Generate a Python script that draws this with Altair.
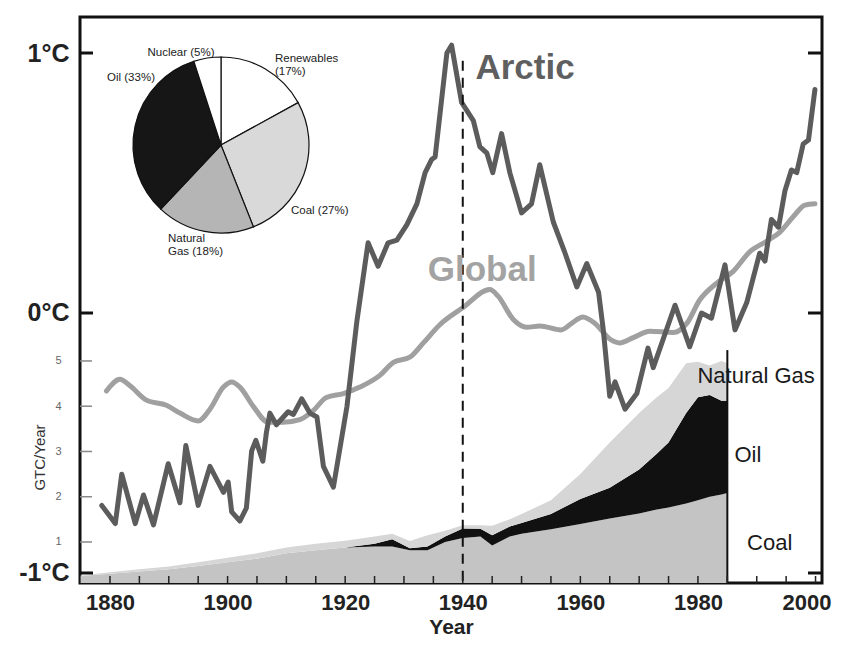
import altair as alt
import pandas as pd

# ---------------- data ----------------
arctic_year = [1878.6, 1880.9, 1882.0, 1884.3, 1885.7, 1887.4, 1889.9, 1891.9, 1892.9, 1895.0,
               1897.0, 1899.3, 1900.1, 1900.7, 1902.1, 1903.2, 1904.1, 1904.8, 1906.0, 1906.6,
               1907.2, 1908.3, 1910.3, 1911.2, 1912.6, 1914.0, 1915.2, 1916.3, 1918.0, 1920.3,
               1922.0, 1923.9, 1925.6, 1927.3, 1928.8, 1930.5, 1932.2, 1933.6, 1934.7, 1935.3,
               1936.4, 1937.3, 1938.1, 1939.8, 1941.8, 1942.9, 1944.1, 1945.1, 1946.6, 1948.0,
               1950.0, 1951.7, 1953.1, 1955.4, 1957.4, 1959.4, 1961.1, 1963.1, 1963.9, 1965.0,
               1965.9, 1967.6, 1969.6, 1971.5, 1972.4, 1976.1, 1978.6, 1980.6, 1982.3, 1984.6,
               1986.3, 1988.3, 1990.5, 1991.4, 1992.5, 1993.7, 1994.8, 1995.9, 1996.8, 1997.9,
               1998.8, 1999.9]
arctic_temp = [-0.74, -0.81, -0.62, -0.81, -0.70, -0.815, -0.58, -0.73, -0.51, -0.74,
               -0.59, -0.69, -0.65, -0.765, -0.80, -0.75, -0.53, -0.49, -0.57, -0.46,
               -0.385, -0.43, -0.38, -0.39, -0.33, -0.385, -0.40, -0.59, -0.67, -0.36,
               -0.03, 0.27, 0.18, 0.27, 0.28, 0.34, 0.42, 0.54, 0.59, 0.60,
               0.82, 1.00, 1.03, 0.81, 0.74, 0.64, 0.615, 0.54, 0.69, 0.54,
               0.385, 0.42, 0.57, 0.35, 0.23, 0.10, 0.19, 0.08, -0.065, -0.32,
               -0.265, -0.37, -0.31, -0.135, -0.21, 0.03, -0.13, 0.00, -0.02, 0.185,
               -0.065, 0.04, 0.23, 0.20, 0.36, 0.33, 0.47, 0.55, 0.54, 0.65,
               0.665, 0.86]

global_year = [1879.4, 1881.7, 1883.4, 1886.2, 1889.6, 1891.9, 1895.0, 1897.0, 1899.3, 1900.7,
               1902.1, 1904.4, 1906.9, 1909.5, 1912.3, 1914.6, 1916.8, 1919.7, 1922.5, 1925.9,
               1928.2, 1931.0, 1933.3, 1936.1, 1940.0, 1944.6, 1946.0, 1948.6, 1950.9, 1953.1,
               1956.7, 1958.8, 1960.4, 1962.5, 1965.0, 1966.7, 1969.0, 1971.8, 1975.8, 1978.1,
               1980.3, 1983.2, 1986.0, 1988.8, 1991.6, 1993.9, 1996.2, 1998.2, 1999.9]
global_temp = [-0.30, -0.255, -0.28, -0.335, -0.355, -0.385, -0.415, -0.37, -0.285, -0.265,
               -0.285, -0.36, -0.42, -0.42, -0.41, -0.375, -0.325, -0.31, -0.285, -0.24,
               -0.19, -0.17, -0.115, -0.045, 0.02, 0.09, 0.065, -0.025, -0.055, -0.05,
               -0.065, -0.035, -0.015, -0.04, -0.10, -0.115, -0.095, -0.07, -0.075, -0.04,
               0.05, 0.115, 0.16, 0.235, 0.275, 0.31, 0.37, 0.415, 0.42]

# carbon emissions, GTC/year, by source
emis_year = [1875, 1880, 1885, 1890, 1895, 1900, 1905, 1910, 1915, 1920, 1925, 1928, 1931,
             1934, 1937, 1940, 1943, 1945, 1948, 1950, 1955, 1960, 1965, 1970, 1973, 1975,
             1978, 1980, 1982, 1984, 1985]
coal = [0.25, 0.30, 0.35, 0.40, 0.47, 0.55, 0.63, 0.75, 0.82, 0.88, 0.90, 0.90, 0.82,
        0.82, 1.00, 1.09, 1.12, 0.92, 1.12, 1.18, 1.28, 1.40, 1.52, 1.63, 1.72, 1.76,
        1.85, 1.92, 2.00, 2.05, 2.08]
oil = [0.0, 0.0, 0.0, 0.0, 0.0, 0.0, 0.0, 0.0, 0.0, 0.0, 0.06, 0.16, 0.04,
       0.08, 0.12, 0.21, 0.17, 0.23, 0.22, 0.24, 0.34, 0.55, 0.68, 0.97, 1.23, 1.44,
       2.00, 2.28, 2.25, 2.07, 2.04]
gas = [0.01, 0.03, 0.05, 0.06, 0.08, 0.10, 0.12, 0.13, 0.14, 0.15, 0.16, 0.12, 0.16,
       0.25, 0.13, 0.07, 0.08, 0.21, 0.16, 0.20, 0.30, 0.55, 1.00, 1.25, 1.25, 1.20,
       1.10, 0.78, 0.65, 0.88, 0.83]
emis_end_year = [1985]
emis_end_top = [5.24]

pie_source = ["Renewables", "Coal", "Natural Gas", "Oil", "Nuclear"]
pie_share = [17, 27, 18, 33, 5]

x_labels = [1880, 1900, 1920, 1940, 1960, 1980, 2000]
x_ticks = [1880, 1885, 1890, 1895, 1900, 1905, 1910, 1915, 1920, 1925, 1930, 1935, 1940,
           1945, 1950, 1955, 1960, 1965, 1970, 1975, 1980, 1985, 1990, 1995, 2000]
temp_ticks = [-1, 0, 1]
gtc_ticks = [1, 2, 3, 4, 5]
marker_year = [1940]
marker_top = [0.97]

series_labels = ["Arctic", "Global"]
series_label_year = [1950.6, 1943.3]
series_label_temp = [0.942, 0.165]
fuel_labels = ["Natural Gas", "Oil", "Coal"]
fuel_label_year = [1989.9, 1988.5, 1992.2]
fuel_label_gtc = [4.67, 2.92, 0.98]

# ---------------- tables ----------------
arctic_df = pd.DataFrame({"year": arctic_year, "temp": arctic_temp})
global_df = pd.DataFrame({"year": global_year, "temp": global_temp})
rows = []
for i, y in enumerate(emis_year):
    rows.append({"year": y, "fuel": "Coal", "ord": 0, "gtc": coal[i]})
    rows.append({"year": y, "fuel": "Oil", "ord": 1, "gtc": oil[i]})
    rows.append({"year": y, "fuel": "Natural Gas", "ord": 2, "gtc": gas[i]})
emis_df = pd.DataFrame(rows)
pie_df = pd.DataFrame({"source": pie_source, "share": pie_share, "ord": list(range(len(pie_source)))})

W, H = 742, 566
SANS = "Liberation Sans, Arial, Helvetica, sans-serif"

X_SCALE = alt.Scale(domain=[1874.9, 2001.1], nice=False, zero=False)
T_SCALE = alt.Scale(domain=[-1.0385, 1.1385], nice=False, zero=False)
G_SCALE = alt.Scale(domain=[0.094, 12.6], nice=False, zero=False)

X_AXIS = alt.Axis(values=x_labels, format="d", title="Year", ticks=False, domain=False, grid=False,
                  labelFont=SANS, labelFontSize=22, labelFontWeight="bold", labelColor="#222",
                  labelPadding=9, labelFlush=False,
                  labelOffset={"condition": {"test": "datum.value == 2000", "value": -9}, "value": 0},
                  titleFont=SANS, titleFontSize=21, titleFontWeight="bold", titleColor="#222",
                  titleY=50, titleBaseline="alphabetic")
T_AXIS = alt.Axis(values=temp_ticks, labelExpr="datum.value + '°C'", orient="left", ticks=False,
                  domain=False, grid=False, labelFont=SANS, labelFontSize=25, labelFontWeight="bold",
                  labelColor="#222", labelPadding=11, title=None, labelFlush=False)
G_AXIS = alt.Axis(values=gtc_ticks, format="d", orient="left", ticks=False, domain=False, grid=False,
                  labelFont=SANS, labelFontSize=11, labelColor="#666", labelPadding=19,
                  title="GTC/Year", titleFont=SANS, titleFontSize=15, titleFontWeight="normal",
                  titleColor="#333", titleX=-41, titleY=440, titleAngle=270, titleAlign="center",
                  titleBaseline="middle", labelFlush=False)


def X(field="year"):
    return alt.X(f"{field}:Q", scale=X_SCALE, axis=X_AXIS)


area = alt.Chart(emis_df).mark_area(clip=True).encode(
    x=X(),
    y=alt.Y("gtc:Q", stack="zero", scale=G_SCALE, axis=G_AXIS),
    color=alt.Color("fuel:N", scale=alt.Scale(domain=["Coal", "Oil", "Natural Gas"],
                                              range=["#c4c4c4", "#111111", "#d6d6d6"]), legend=None),
    order=alt.Order("ord:Q"),
)

end_rule = alt.Chart(pd.DataFrame({"year": emis_end_year, "top": emis_end_top})).mark_rule(
    color="#111", strokeWidth=2).encode(
    x=X(), y=alt.Y("top:Q", scale=G_SCALE, axis=None), y2=alt.value(H))

gtc_tick_marks = alt.Chart(pd.DataFrame({"g": gtc_ticks})).mark_rule(color="#888", strokeWidth=1.5).encode(
    y=alt.Y("g:Q", scale=G_SCALE, axis=None), x=alt.value(0), x2=alt.value(12))

global_line = alt.Chart(global_df).mark_line(color="#a0a0a0", strokeWidth=5, strokeJoin="round",
                                             strokeCap="round", clip=True,
                                             interpolate="monotone").encode(
    x=X(), y=alt.Y("temp:Q", scale=T_SCALE, axis=None))

arctic_line = alt.Chart(arctic_df).mark_line(color="#5c5c5c", strokeWidth=5, strokeJoin="round",
                                             strokeCap="round", clip=True).encode(
    x=X(), y=alt.Y("temp:Q", scale=T_SCALE, axis=T_AXIS))

marker = alt.Chart(pd.DataFrame({"year": marker_year, "top": marker_top})).mark_rule(
    color="#111", strokeWidth=2, strokeDash=[10, 7]).encode(
    x=X(), y=alt.Y("top:Q", scale=T_SCALE, axis=None), y2=alt.value(H))

temp_df = pd.DataFrame({"t": temp_ticks})
temp_left = alt.Chart(temp_df).mark_rule(color="#111", strokeWidth=3).encode(
    y=alt.Y("t:Q", scale=T_SCALE, axis=None), x=alt.value(0), x2=alt.value(13))
temp_right = alt.Chart(temp_df).mark_rule(color="#111", strokeWidth=3).encode(
    y=alt.Y("t:Q", scale=T_SCALE, axis=None), x=alt.value(W - 14), x2=alt.value(W))

x_tick_marks = alt.Chart(pd.DataFrame({"year": x_ticks})).mark_rule(color="#222", strokeWidth=1.5).encode(
    x=X(), y=alt.value(H), y2=alt.value(H - 7))

ser_df = pd.DataFrame({"year": series_label_year, "temp": series_label_temp, "label": series_labels})
ser_text = alt.Chart(ser_df).mark_text(font=SANS, fontSize=35, fontWeight="bold", align="center",
                                       baseline="middle").encode(
    x=X(), y=alt.Y("temp:Q", scale=T_SCALE, axis=None), text="label:N",
    color=alt.Color("label:N", scale=alt.Scale(domain=series_labels, range=["#5f5f5f", "#a3a3a3"]),
                    legend=None))

fuel_df = pd.DataFrame({"year": fuel_label_year, "gtc": fuel_label_gtc, "label": fuel_labels})
fuel_text = alt.Chart(fuel_df).mark_text(font=SANS, fontSize=22, color="#1a1a1a", align="center",
                                         baseline="middle").encode(
    x=X(), y=alt.Y("gtc:Q", scale=G_SCALE, axis=None), text="label:N")

pie = alt.Chart(pie_df).mark_arc(outerRadius=88, stroke="#111", strokeWidth=1.2).encode(
    theta=alt.Theta("share:Q", stack=True),
    order=alt.Order("ord:Q"),
    color=alt.Color("source:N", scale=alt.Scale(domain=pie_source,
                                                range=["#ffffff", "#d9d9d9", "#b5b5b5", "#161616", "#ffffff"]),
                    legend=None),
    x=alt.value(141), y=alt.value(128),
)


def pie_label(txt, px, py, align):
    return alt.Chart(pd.DataFrame({"t": [txt]})).mark_text(
        font=SANS, fontSize=11.5, color="#222", align=align, baseline="middle").encode(
        text="t:N", x=alt.value(px), y=alt.value(py))


pie_texts = [
    pie_label("Nuclear (5%)", 101, 36, "center"),
    pie_label("Oil (33%)", 51, 61, "center"),
    pie_label("Renewables", 195, 42, "left"),
    pie_label("(17%)", 195, 55, "left"),
    pie_label("Coal (27%)", 211, 194, "left"),
    pie_label("Natural", 88, 222, "left"),
    pie_label("Gas (18%)", 88, 235, "left"),
]

chart = alt.layer(
    area, end_rule, gtc_tick_marks, global_line, arctic_line, marker, temp_left, temp_right,
    x_tick_marks, ser_text, fuel_text, pie, *pie_texts
).resolve_scale(y="independent", color="independent").properties(
    width=W, height=H,
    autosize=alt.AutoSizeParams(type="none"),
    padding={"left": 72, "top": 9, "right": 14, "bottom": 55},
).configure(background="white").configure_view(stroke="#111", strokeWidth=3)

chart.save("out.html", embed_options={"renderer": "svg", "actions": False})
